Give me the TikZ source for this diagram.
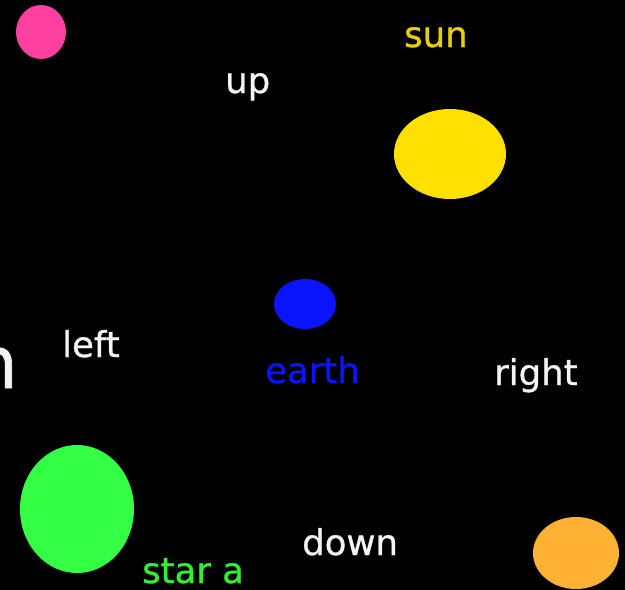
\documentclass[tikz,border=0pt]{standalone}
\usepackage{fontspec}
\setmainfont[FakeBold=0.9]{DejaVu Sans}
\definecolor{pinkc}{HTML}{FF40A0}
\definecolor{sunc}{HTML}{FFE000}
\definecolor{suntext}{HTML}{E8D000}
\definecolor{earthc}{HTML}{0A14FF}
\definecolor{greenc}{HTML}{33FF44}
\definecolor{greentext}{HTML}{33EE33}
\definecolor{orangec}{HTML}{FFB133}
\definecolor{whitec}{HTML}{F4F4F4}
\tikzset{
  lbl/.style={anchor=base west, inner sep=0pt, font=\fontsize{35.5}{40}\selectfont},
}
\begin{document}
\begin{tikzpicture}[x=1pt,y=-1pt]
\useasboundingbox (0,0) rectangle (625,590);
\fill[black] (0,0) rectangle (625,590);
\begin{scope}
\clip (0,0) rectangle (625,590);
\node[anchor=base west, inner sep=0pt, text=whitec, font=\fontsize{72}{80}\selectfont] (bign) at (-28,388) {n};
\fill[pinkc] (41,32) ellipse [x radius=25, y radius=27];
\fill[sunc] (450,154) ellipse [x radius=56, y radius=45];
\fill[earthc] (305,304) ellipse [x radius=31, y radius=25];
\fill[greenc] (77,509) ellipse [x radius=57, y radius=64];
\fill[orangec] (576,553) ellipse [x radius=43, y radius=36];
\end{scope}
\node[lbl, text=suntext] (sun) at (404,47) {sun};
\node[lbl, text=whitec] (up) at (225,93) {up};
\node[lbl, text=whitec] (left) at (62,357) {left};
\node[lbl, text=earthc] (earth) at (265,383) {earth};
\node[lbl, text=whitec] (right) at (494,385) {right};
\node[lbl, text=whitec] (down) at (302,555) {down};
\node[lbl, text=greentext] (stara) at (142,583) {star a};
\end{tikzpicture}
\end{document}
